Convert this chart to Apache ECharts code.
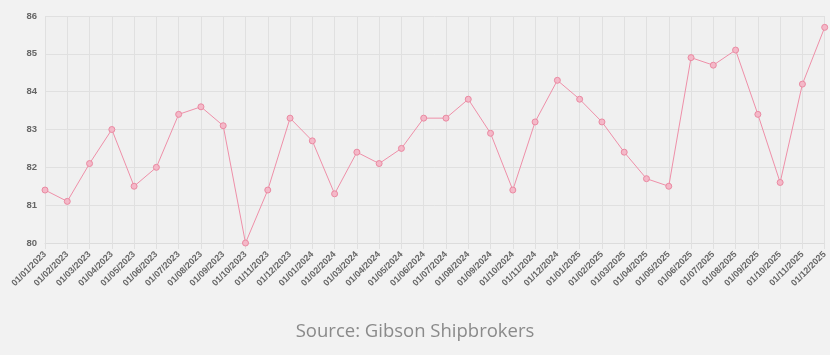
<!DOCTYPE html>
<html><head><meta charset="utf-8">
<script src="https://cdn.jsdelivr.net/npm/echarts@6/dist/echarts.min.js"></script>
<style>html,body{margin:0;padding:0;background:#f2f2f2;}#c{width:830px;height:355px;}</style>
</head><body><div id="c"></div>
<script>
const categories = ["01/01/2023","01/02/2023","01/03/2023","01/04/2023","01/05/2023","01/06/2023","01/07/2023","01/08/2023","01/09/2023","01/10/2023","01/11/2023","01/12/2023",
"01/01/2024","01/02/2024","01/03/2024","01/04/2024","01/05/2024","01/06/2024","01/07/2024","01/08/2024","01/09/2024","01/10/2024","01/11/2024","01/12/2024",
"01/01/2025","01/02/2025","01/03/2025","01/04/2025","01/05/2025","01/06/2025","01/07/2025","01/08/2025","01/09/2025","01/10/2025","01/11/2025","01/12/2025"];
const values = [81.4,81.1,82.1,83.0,81.5,82.0,83.4,83.6,83.1,80.0,81.4,83.3,
82.7,81.3,82.4,82.1,82.5,83.3,83.3,83.8,82.9,81.4,83.2,84.3,
83.8,83.2,82.4,81.7,81.5,84.9,84.7,85.1,83.4,81.6,84.2,85.7];
const yMin = 80, yMax = 86, yStep = 1;
const sourceText = "Source: Gibson Shipbrokers";

const chart = echarts.init(document.getElementById('c'));
chart.setOption({
  backgroundColor: '#f2f2f2',
  animation: false,
  title: {
    text: sourceText, left: 'center', top: 317,
    textStyle: {fontFamily: 'Open Sans', fontSize: 18.5, fontWeight: 'normal', color: '#8a8a8a'}
  },
  grid: {left: 45, right: 3, top: 16, bottom: 112, show: true, backgroundColor: '#f0f0f0', borderWidth: 0},
  xAxis: {
    type: 'category', data: categories, boundaryGap: false,
    axisLine: {show: true, lineStyle: {color: '#dcdcdc'}},
    axisTick: {show: true, length: 6, lineStyle: {color: '#e0e0e0'}},
    splitLine: {show: true, lineStyle: {color: '#e0e0e0'}},
    axisLabel: {rotate: 45, interval: 0, fontSize: 9, fontWeight: 'bold', fontFamily: 'Arial', color: '#666', margin: 10}
  },
  yAxis: {
    type: 'value', min: yMin, max: yMax, interval: yStep,
    axisLine: {show: false}, axisTick: {show: false},
    splitLine: {show: true, lineStyle: {color: '#e0e0e0'}},
    axisLabel: {fontSize: 9.5, fontWeight: 'bold', fontFamily: 'Arial', color: '#666', margin: 8}
  },
  series: [{
    type: 'line', data: values,
    symbol: 'circle', symbolSize: 6,
    lineStyle: {color: '#ee8fa8', width: 1},
    itemStyle: {color: '#f4b8c8', borderColor: '#ea8aa2', borderWidth: 1}
  }]
});
</script></body></html>
